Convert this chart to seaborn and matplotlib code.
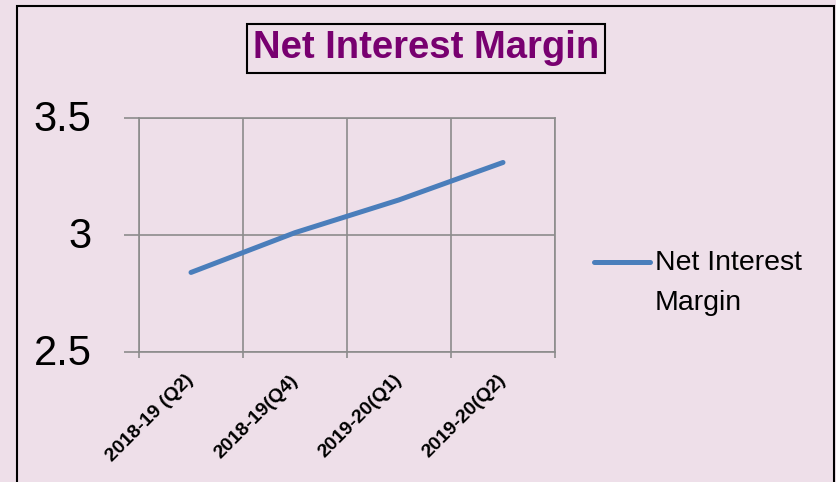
import numpy as np
import pandas as pd
import matplotlib.pyplot as plt
import seaborn as sns
from matplotlib.patches import Rectangle
from matplotlib.lines import Line2D
from matplotlib.transforms import ScaledTranslation

quarters = ["2018-19 (Q2)", "2018-19(Q4)", "2019-20(Q1)", "2019-20(Q2)"]
nim = [2.84, 3.01, 3.15, 3.31]
series_name = "Net Interest Margin"
y_ticks = [2.5, 3, 3.5]
y_labels = ["2.5", "3", "3.5"]

bg = "#EEDFE9"
grid_col = "#8C8C8C"
line_col = "#4A7EBB"
title_col = "#780070"

sns.set_style("white")
plt.rcParams['font.family'] = ['Liberation Sans', 'DejaVu Sans']
plt.rcParams['text.color'] = 'black'
plt.rcParams['xtick.color'] = 'black'
plt.rcParams['ytick.color'] = 'black'

df = pd.DataFrame({"quarter": quarters, "nim": nim})

fig = plt.figure(figsize=(8.37, 4.82), dpi=100)
fig.patch.set_facecolor(bg)
ax = fig.add_axes([139/837, 1 - 352/482, (555 - 139)/837, (352 - 118)/482])
ax.set_facecolor(bg)

sns.lineplot(data=df, x="quarter", y="nim", sort=False, color=line_col,
             linewidth=3.6, solid_capstyle="round", ax=ax, legend=False)

ax.set_xlim(-0.5, 3.5)
ax.set_ylim(2.5, 3.5)
ax.set_xticks(np.arange(-0.5, 4, 1.0))
ax.set_xticklabels([])
ax.set_xticks(range(len(quarters)), labels=quarters, minor=True)
ax.set_yticks(y_ticks, labels=y_labels)
ax.grid(True, which="major", color=grid_col, linewidth=1.2)
ax.set_axisbelow(True)
for s in ax.spines.values():
    s.set_color(grid_col)
    s.set_linewidth(1.2)
ax.tick_params(axis="x", which="major", length=4.5, width=1.2, color=grid_col, bottom=True)
ax.tick_params(axis="x", which="minor", length=0, pad=14, labelcolor="black")
ax.tick_params(axis="y", length=11, width=1.2, color=grid_col, pad=23, labelsize=30,
               left=True, labelcolor="black")
yshift = ScaledTranslation(0, 2.5/100, fig.dpi_scale_trans)
for lbl in ax.get_yticklabels():
    lbl.set_transform(lbl.get_transform() + yshift)
shift = ScaledTranslation(-6/100, 0, fig.dpi_scale_trans)
for lbl in ax.get_xticklabels(minor=True):
    lbl.set_rotation(45)
    lbl.set_ha("right")
    lbl.set_va("top")
    lbl.set_rotation_mode("anchor")
    lbl.set_fontweight("bold")
    lbl.set_fontsize(14)
    lbl.set_transform(lbl.get_transform() + shift)
ax.set_xlabel("")
ax.set_ylabel("")

# title in a box
fig.text(426/837, 1 - 48.5/482, series_name, ha="center", va="center",
         fontsize=27.5, fontweight="bold", color=title_col,
         bbox=dict(boxstyle="square,pad=0.16", fc="none", ec="black", lw=1.5))

# legend, drawn by hand so the key sits on the first line
fig.add_artist(Line2D([594/837, 650/837], [1 - 262/482, 1 - 262/482],
                      color=line_col, linewidth=3.6, solid_capstyle="round",
                      transform=fig.transFigure))
fig.text(655/837, 1 - 269.5/482, "Net Interest", ha="left", va="baseline",
         fontsize=20.5, color="black")
fig.text(655/837, 1 - 309.5/482, "Margin", ha="left", va="baseline",
         fontsize=20.5, color="black")

# outer frame
fig.add_artist(Rectangle((17/837, -0.05), (834 - 17)/837, 1 - 6/482 + 0.05,
                         transform=fig.transFigure, fill=False, ec="black",
                         lw=1.5, clip_on=False))

fig.savefig("out.png", dpi=100, facecolor=bg)
